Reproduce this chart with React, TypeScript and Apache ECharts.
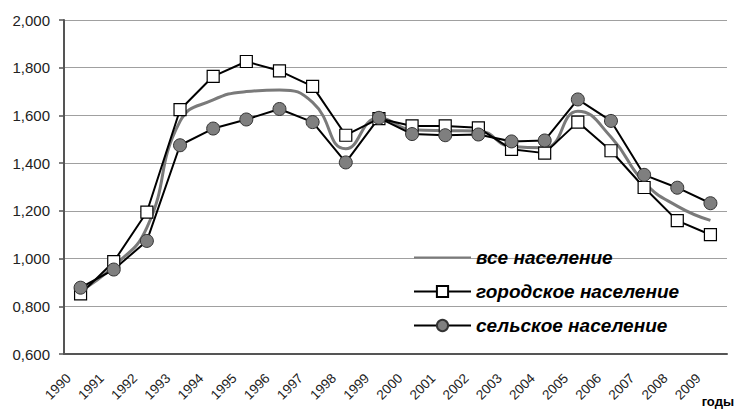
import React, { useEffect, useRef } from "react";
import * as echarts from "echarts";

const years = ["1990","1991","1992","1993","1994","1995","1996","1997","1998","1999","2000","2001","2002","2003","2004","2005","2006","2007","2008","2009"];
const allPop = [0.865, 0.968, 1.13, 1.575, 1.665, 1.70, 1.707, 1.655, 1.46, 1.59, 1.54, 1.536, 1.535, 1.47, 1.465, 1.618, 1.51, 1.32, 1.22, 1.16];
const urban = [0.852, 0.987, 1.195, 1.624, 1.764, 1.826, 1.787, 1.722, 1.517, 1.587, 1.556, 1.556, 1.548, 1.458, 1.442, 1.572, 1.452, 1.298, 1.159, 1.10];
const rural = [0.878, 0.954, 1.074, 1.475, 1.545, 1.583, 1.627, 1.572, 1.403, 1.59, 1.522, 1.517, 1.52, 1.491, 1.495, 1.667, 1.577, 1.351, 1.297, 1.232];
const seriesNames = ["все население", "городское население", "сельское население"];
const xAxisTitle = "годы";

export default function App() {
  const ref = useRef<HTMLDivElement>(null);
  useEffect(() => {
    if (!ref.current) return;
    const chart = echarts.init(ref.current, undefined, { renderer: "svg" });
    const font = "Liberation Sans, Arial, sans-serif";
    chart.setOption({
      animation: false,
      backgroundColor: "#ffffff",
      textStyle: { fontFamily: font },
      grid: { left: 64, right: 9, top: 20, bottom: 57 },
      legend: {
        orient: "vertical",
        left: 413,
        top: 248,
        padding: 0,
        itemWidth: 57,
        itemHeight: 14,
        itemGap: 15,
        data: [
          {
            name: seriesNames[0],
            itemStyle: { color: "rgba(0,0,0,0)", borderColor: "rgba(0,0,0,0)", borderWidth: 0 },
          },
          { name: seriesNames[1] },
          { name: seriesNames[2] },
        ],
        textStyle: { fontFamily: font, fontSize: 19, fontWeight: "bold", fontStyle: "italic", color: "#000" },
      },
      xAxis: {
        type: "category",
        data: years,
        boundaryGap: true,
        axisLine: { lineStyle: { color: "#555", width: 2 } },
        axisTick: { lineStyle: { color: "#555", width: 1.5 }, length: 5 },
        axisLabel: {
          rotate: 45,
          color: "#222",
          margin: 10,
          interval: 0,
          formatter: (v: string) => "{y|" + v + "}{s|}",
          rich: {
            y: { fontSize: 13.5, color: "#222", fontFamily: font },
            s: { width: 17 },
          },
        },
      },
      yAxis: {
        type: "value",
        min: 0.6,
        max: 2.0,
        interval: 0.2,
        axisLine: { show: true, lineStyle: { color: "#555", width: 2 } },
        axisTick: { show: true, lineStyle: { color: "#555", width: 1.5 }, length: 5 },
        splitLine: { lineStyle: { color: "#a0a0a0", width: 1 } },
        axisLabel: {
          fontSize: 15,
          color: "#222",
          margin: 14,
          formatter: (v: number) => v.toFixed(3).replace(".", ","),
        },
      },
      graphic: [
        {
          type: "text",
          x: 734,
          y: 408,
          style: {
            text: xAxisTitle,
            font: "bold 13px Liberation Sans, Arial, sans-serif",
            fill: "#000",
            align: "right",
            verticalAlign: "bottom",
          },
        },
      ],
      series: [
        {
          name: seriesNames[0],
          type: "line",
          data: allPop,
          smooth: 0.5,
          symbol: "none",
          lineStyle: { color: "#7a7a7a", width: 3 },
          itemStyle: { color: "#7a7a7a" },
        },
        {
          name: seriesNames[1],
          type: "line",
          data: urban,
          symbol: "rect",
          symbolSize: 12,
          lineStyle: { color: "#000", width: 2 },
          itemStyle: { color: "#fff", borderColor: "#000", borderWidth: 1.2 },
        },
        {
          name: seriesNames[2],
          type: "line",
          data: rural,
          symbol: "circle",
          symbolSize: 13,
          lineStyle: { color: "#000", width: 2 },
          itemStyle: { color: "#7f7f7f", borderColor: "#333", borderWidth: 1 },
        },
      ],
    });
    return () => chart.dispose();
  }, []);
  return <div ref={ref} style={{ position: "fixed", left: 0, top: 0, width: 736, height: 411 }} />;
}
